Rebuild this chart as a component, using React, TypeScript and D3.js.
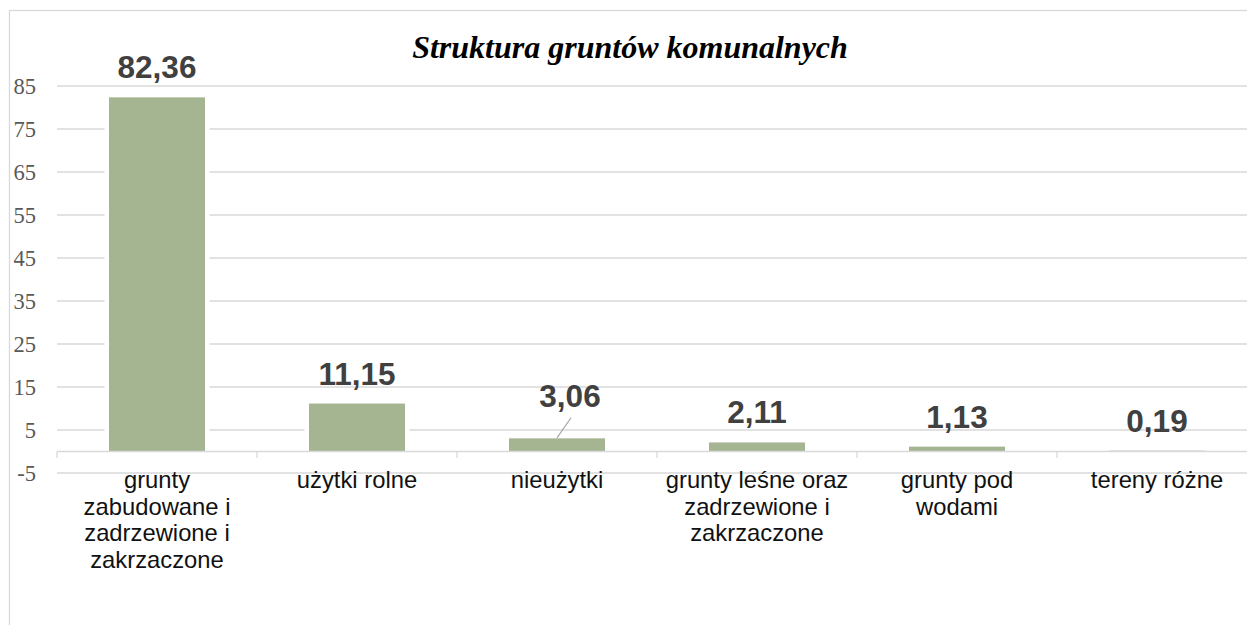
import React from "react";
import * as d3 from "d3";

const title = "Struktura gruntów komunalnych";
const categories = [
  "grunty\nzabudowane i\nzadrzewione i\nzakrzaczone",
  "użytki rolne",
  "nieużytki",
  "grunty leśne oraz\nzadrzewione i\nzakrzaczone",
  "grunty pod\nwodami",
  "tereny różne",
];
const values = [82.36, 11.15, 3.06, 2.11, 1.13, 0.19];
const valueLabels = ["82,36", "11,15", "3,06", "2,11", "1,13", "0,19"];
const yTicks = [-5, 5, 15, 25, 35, 45, 55, 65, 75, 85];

const W = 1247;
const H = 625;

export default function App() {
  const x = d3
    .scaleBand<number>()
    .domain(categories.map((_, i) => i))
    .range([57, 1257])
    .paddingInner(0.52)
    .paddingOuter(0.26);
  const y = d3.scaleLinear().domain([-5, 85]).range([473, 86]);
  const y0 = y(0);
  const step = x.step();
  const leaderIdx = 2;

  return (
    <svg
      width={W}
      height={H}
      style={{ position: "absolute", left: 0, top: 0, background: "#fff" }}
    >
      <rect x={0} y={0} width={W} height={H} fill="#fff" />
      <rect
        x={9.5}
        y={10.5}
        width={1400}
        height={800}
        fill="#fff"
        stroke="#d9d9d9"
        strokeWidth={1.3}
      />
      <text
        x={630}
        y={58}
        textAnchor="middle"
        fontFamily="'Liberation Serif', 'Times New Roman', serif"
        fontWeight="bold"
        fontStyle="italic"
        fontSize={32}
        fill="#000"
      >
        {title}
      </text>
      {yTicks.map((t) => (
        <g key={t}>
          <line
            x1={57}
            x2={1257}
            y1={y(t)}
            y2={y(t)}
            stroke="#d9d9d9"
            strokeWidth={1.3}
          />
          <text
            x={36}
            y={y(t) + 8}
            textAnchor="end"
            fontFamily="'Liberation Serif', 'Times New Roman', serif"
            fontSize={22.5}
            fill="#595959"
          >
            {t}
          </text>
        </g>
      ))}
      {values.map((v, i) => (
        <rect
          key={i}
          x={x(i)!}
          y={y(v)}
          width={x.bandwidth()}
          height={Math.max(0, y0 - y(v))}
          fill="#a5b592"
          stroke="#fff"
          strokeWidth={9}
          style={{ paintOrder: "stroke" }}
        />
      ))}
      <line x1={57} x2={1257} y1={y0} y2={y0} stroke="#d9d9d9" strokeWidth={1.3} />
      {d3.range(categories.length + 1).map((k) => (
        <line
          key={k}
          x1={57 + k * step}
          x2={57 + k * step}
          y1={y0}
          y2={y0 + 6.5}
          stroke="#d9d9d9"
          strokeWidth={1.3}
        />
      ))}
      {values.map((v, i) => {
        const cx = x(i)! + x.bandwidth() / 2;
        const isLeader = i === leaderIdx;
        const lx = isLeader ? cx + 13 : cx;
        const ly = isLeader ? y(v) - 31.6 : y(v) - 19;
        return (
          <g key={i}>
            {isLeader && (
              <line
                x1={lx + 1}
                y1={ly + 11}
                x2={cx}
                y2={y(v) - 0.5}
                stroke="#a6a6a6"
                strokeWidth={1.2}
              />
            )}
            <text
              x={lx}
              y={ly}
              textAnchor="middle"
              fontFamily="'Liberation Sans', Arial, sans-serif"
              fontWeight="bold"
              fontSize={31.5}
              fill="#404040"
            >
              {valueLabels[i]}
            </text>
          </g>
        );
      })}
      {categories.map((c, i) => {
        const cx = x(i)! + x.bandwidth() / 2;
        return (
          <text
            key={i}
            textAnchor="middle"
            fontFamily="'Liberation Sans', Arial, sans-serif"
            fontSize={23.8}
            fill="#111"
          >
            {c.split("\n").map((line, j) => (
              <tspan key={j} x={cx} y={488 + j * 26.7}>
                {line}
              </tspan>
            ))}
          </text>
        );
      })}
    </svg>
  );
}
